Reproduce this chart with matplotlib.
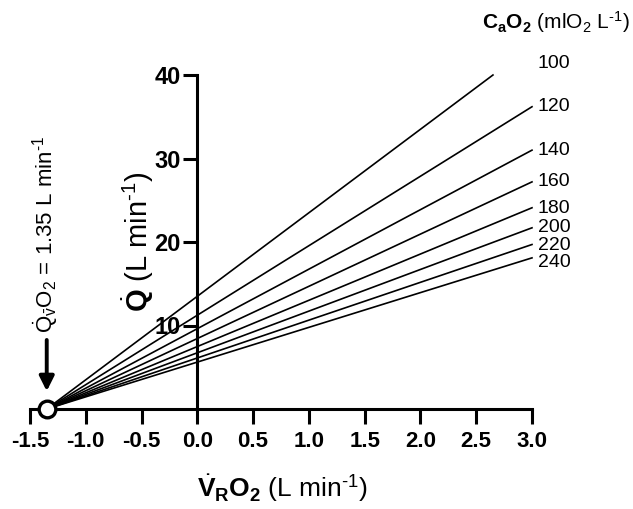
import numpy as np
import matplotlib
matplotlib.use('Agg')
import matplotlib.pyplot as plt

plt.rcParams['font.family'] = 'Liberation Sans'
plt.rcParams['mathtext.fontset'] = 'custom'
plt.rcParams['mathtext.rm'] = 'Liberation Sans'
plt.rcParams['mathtext.it'] = 'Liberation Sans:italic'
plt.rcParams['mathtext.bf'] = 'Liberation Sans:bold'

# arterial O2 content per line, and where each line ends
cao2 = [100, 120, 140, 160, 180, 200, 220, 240]
end_x = [2.65, 3.0, 3.0, 3.0, 3.0, 3.0, 3.0, 3.0]
end_y = [40.0, 36.2, 31.0, 27.2, 24.1, 21.7, 19.7, 18.1]
label_y = [41.4, 36.2, 31.0, 27.2, 24.0, 21.7, 19.6, 17.6]
# common origin of all lines
start_x = -1.35
start_y = 0.0

xticks = [-1.5, -1.0, -0.5, 0.0, 0.5, 1.0, 1.5, 2.0, 2.5, 3.0]
yticks = [10, 20, 30, 40]

W, H = 633, 509
fig = plt.figure(figsize=(W/100, H/100), dpi=100)
ax = fig.add_axes([30/W, 1-409/H, 502/W, 334/H])

for c, ex, ey in zip(cao2, end_x, end_y):
    ax.plot([start_x, ex], [start_y, ey], color='black', lw=1.2, clip_on=False, zorder=3)

for c, ly in zip(cao2, label_y):
    ax.text(3.05, ly, str(c), fontsize=14, ha='left', va='center')

ax.plot([start_x], [start_y], 'o', ms=12, mfc='white', mec='black', mew=2.4,
        clip_on=False, zorder=5)

ax.annotate('', xy=(start_x, 1.8), xytext=(start_x, 8.6),
            arrowprops=dict(arrowstyle='-|>', lw=2.8, color='black', mutation_scale=22))

ax.set_xlim(-1.5, 3.0)
ax.set_ylim(0, 40)
ax.spines['top'].set_visible(False)
ax.spines['right'].set_visible(False)
ax.spines['left'].set_position(('data', 0))
ax.spines['bottom'].set_position(('data', 0))
ax.spines['left'].set_linewidth(2.2)
ax.spines['bottom'].set_linewidth(2.2)
ax.spines['left'].set_zorder(4)
ax.spines['bottom'].set_zorder(4)

ax.set_xticks(xticks)
ax.set_xticklabels(['%.1f' % t for t in xticks])
ax.set_yticks(yticks)
ax.tick_params(axis='both', direction='out', width=2.2)
ax.tick_params(axis='x', length=11, pad=5, labelsize=16)
ax.tick_params(axis='y', length=10, pad=2, labelsize=17)
for lab in ax.get_xticklabels() + ax.get_yticklabels():
    lab.set_fontweight('bold')

fig.text(282/W, 1-488/H, r'$\dot{\mathbf{V}}_{\mathbf{R}}\mathbf{O}_{\mathbf{2}}$ (L min$^{\text{-}1}$)',
         fontsize=19, ha='center', va='center')
fig.text(138/W, 1-242/H, r'$\dot{\mathbf{Q}}$ (L min$^{\text{-}1}$)',
         fontsize=21, ha='center', va='center', rotation=90)
fig.text(46/W, 1-234/H, r'$\dot{\mathrm{Q}}_{\bar{\mathrm{v}}}$O$_2$ = 1.35 L min$^{\text{-}1}$',
         fontsize=16, ha='center', va='center', rotation=90)
fig.text(482/W, 1-22/H, r'$\mathbf{C}_{\mathbf{a}}\mathbf{O}_{\mathbf{2}}$ (mlO$_2$ L$^{\text{-}1}$)',
         fontsize=15, ha='left', va='center')

fig.savefig('out.png', dpi=100)
